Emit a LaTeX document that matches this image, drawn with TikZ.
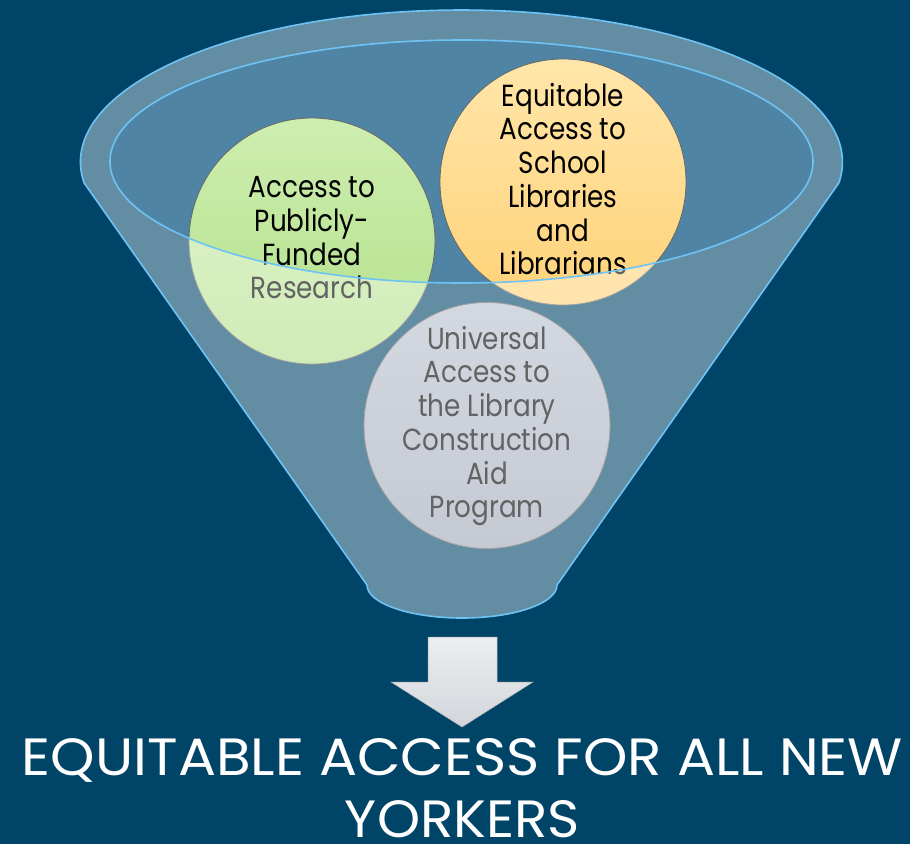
\documentclass[tikz,border=0pt]{standalone}
\usepackage{fontspec}
\setmainfont{Poppins}
\newfontfamily\circfont[FakeStretch=0.86]{Poppins}
\usetikzlibrary{shapes.geometric}
\definecolor{bgblue}{RGB}{0,69,104}
\definecolor{innerblue}{RGB}{80,132,165}
\definecolor{edgeblue}{RGB}{110,195,245}
\definecolor{greenA}{RGB}{205,238,175}
\definecolor{greenB}{RGB}{178,224,138}
\definecolor{orangeA}{RGB}{255,230,170}
\definecolor{orangeB}{RGB}{255,210,120}
\definecolor{grayA}{RGB}{185,192,206}
\definecolor{grayB}{RGB}{160,168,184}
\definecolor{arrowA}{RGB}{236,238,240}
\definecolor{arrowB}{RGB}{210,214,219}
\tikzset{
  circ/.style={circle, minimum size=246pt, inner sep=0pt, draw=black!60, line width=0.8pt, shading angle=45},
  ctext/.style={align=center, text=black, inner sep=0pt, font=\circfont\fontsize{30.5}{33.7}\selectfont},
  titletext/.style={text=white, inner sep=0pt, anchor=base},
  edge/.style={draw=edgeblue, line width=1.6pt}
}
\begin{document}
\begin{tikzpicture}[x=1pt,y=-1pt]
\useasboundingbox (0,0) rectangle (910,844);
\fill[bgblue] (0,0) rectangle (910,844);
% back of funnel mouth
\fill[innerblue] (461.5,161.5) ellipse [x radius=351.5, y radius=121.5];
% circles
\node[circ, top color=greenA, bottom color=greenB] (green) at (312,241) {};
\node[circ, top color=orangeA, bottom color=orangeB] (orange) at (563,182) {};
\node[circ, top color=grayA, bottom color=grayB] (gray) at (487,425.5) {};
\node[ctext] (greenT) at (312,238) {Access to\\Publicly-\\Funded\\Research};
\node[ctext] (orangeT) at (563,179) {Equitable\\Access to\\School\\Libraries\\and\\Librarians};
\node[ctext] (grayT) at (487,426) {Universal\\Access to\\the Library\\Construction\\Aid\\Program};
% translucent front of funnel
\fill[white, fill opacity=0.39, even odd rule]
  (84.1,182.9) arc[start angle=172.1, end angle=367.9, x radius=381, y radius=152]
  -- (557,585) arc[start angle=0, end angle=180, x radius=95, y radius=33] -- cycle
  (461.5,161.5) ellipse [x radius=351.5, y radius=121.5];
\draw[edge, line join=round]
  (84.1,182.9) arc[start angle=172.1, end angle=367.9, x radius=381, y radius=152]
  -- (557,585) arc[start angle=0, end angle=180, x radius=95, y radius=33] -- cycle;
\draw[edge] (461.5,161.5) ellipse [x radius=351.5, y radius=121.5];
% arrow
\shade[top color=arrowA, bottom color=arrowB, draw=white!70!black, line width=0.5pt]
  (428,637) -- (497,637) -- (497,682) -- (533,682) -- (462,727) -- (391,682) -- (428,682) -- cycle;
% title
\node[titletext] (title1) at (462.5,775) {\resizebox{881pt}{37pt}{EQUITABLE ACCESS FOR ALL NEW}};
\node[titletext] (title2) at (462.5,837) {\resizebox{235pt}{37pt}{YORKERS}};
\end{tikzpicture}
\end{document}
